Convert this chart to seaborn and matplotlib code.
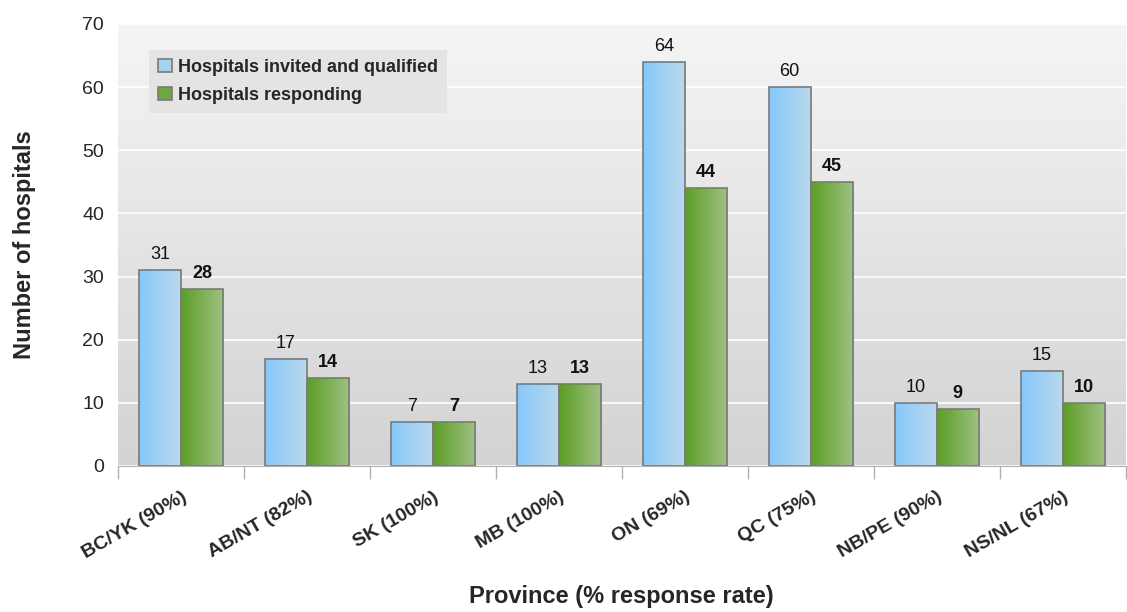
import numpy as np
import pandas as pd
import matplotlib.pyplot as plt
import seaborn as sns
from matplotlib.colors import LinearSegmentedColormap

provinces = ['BC/YK (90%)', 'AB/NT (82%)', 'SK (100%)', 'MB (100%)',
             'ON (69%)', 'QC (75%)', 'NB/PE (90%)', 'NS/NL (67%)']
invited = [31, 17, 7, 13, 64, 60, 10, 15]
responding = [28, 14, 7, 13, 44, 45, 9, 10]
series = ['Hospitals invited and qualified', 'Hospitals responding']

df = pd.DataFrame({
    'Province': provinces * 2,
    'Count': invited + responding,
    'Series': [series[0]] * len(provinces) + [series[1]] * len(provinces),
})

sns.set_style('white')
plt.rcParams['font.family'] = ['Liberation Sans', 'DejaVu Sans']

fig = plt.figure(figsize=(11.27, 6.12), dpi=100)
ax = fig.add_axes([0.1047, 0.2386, 0.894, 0.7222])

# background gradient (light at top, grey at bottom)
bg = LinearSegmentedColormap.from_list('bg', ['#d3d3d3', '#f5f5f5'])
ax.imshow(np.linspace(0, 1, 256).reshape(-1, 1), cmap=bg, origin='lower',
          extent=[0, 1, 0, 1], transform=ax.transAxes, aspect='auto', zorder=0)

sns.barplot(data=df, x='Province', y='Count', hue='Series',
            palette=['#9fd0f5', '#7aac50'], width=0.667, gap=0,
            edgecolor='#7a7a7a', linewidth=1.2, ax=ax, zorder=2)

grads = {
    series[0]: LinearSegmentedColormap.from_list('b', ['#86c8fb', '#bcd9ec']),
    series[1]: LinearSegmentedColormap.from_list('g', ['#5b9e25', '#a0c184']),
}
for cont, name in zip(ax.containers, series):
    for bar in cont:
        x0, y0 = bar.get_x(), bar.get_y()
        w, h = bar.get_width(), bar.get_height()
        im = ax.imshow(np.linspace(0, 1, 256).reshape(1, -1), cmap=grads[name],
                       extent=[x0, x0 + w, y0, y0 + h], aspect='auto', zorder=2.5)
        im.set_clip_path(bar)
        bar.set_facecolor('none')
        bar.set_zorder(3)

for cont, bold in zip(ax.containers, [False, True]):
    ax.bar_label(cont, padding=5, fontsize=13, color='#111111',
                 fontweight='bold' if bold else 'normal')

ax.set_xlim(-0.5, len(provinces) - 0.5)
ax.set_ylim(0, 70)
ax.set_yticks(range(0, 71, 10))
ax.yaxis.grid(True, color='white', linewidth=1.2, zorder=1)
ax.set_axisbelow(True)

ax.set_xticks(range(len(provinces)))
ax.set_xticklabels(provinces, rotation=30, ha='right', rotation_mode='anchor',
                   fontsize=14, fontweight='bold')
ax.set_xticks(np.arange(-0.5, len(provinces), 1), minor=True)
ax.tick_params(axis='x', which='major', length=0, pad=16)
ax.tick_params(axis='x', which='minor', length=9, color='#b0b0b0', width=1,
               direction='out', bottom=True)
ax.tick_params(axis='y', labelsize=14, length=0, pad=10)

for s in ['top', 'right', 'left']:
    ax.spines[s].set_visible(False)
ax.spines['bottom'].set_color('#b0b0b0')

ax.set_xlabel('Province (% response rate)', fontsize=17, fontweight='bold',
              labelpad=17)
ax.set_ylabel('Number of hospitals', fontsize=17, fontweight='bold',
              labelpad=33)

leg = ax.legend(loc='upper left', bbox_to_anchor=(0.022, 0.962),
                prop={'weight': 'bold', 'size': 13}, frameon=True,
                handlelength=0.75, handleheight=0.75, handletextpad=0.35,
                borderpad=0.5, labelspacing=0.6, fancybox=False)
leg.get_frame().set_facecolor('#e4e4e4')
leg.get_frame().set_edgecolor('none')
leg.get_frame().set_alpha(1)
for h, c in zip(leg.legend_handles, ['#a3d2f4', '#6ea640']):
    h.set_facecolor(c)
    h.set_edgecolor('#7a7a7a')

fig.savefig('out.png', dpi=100)
